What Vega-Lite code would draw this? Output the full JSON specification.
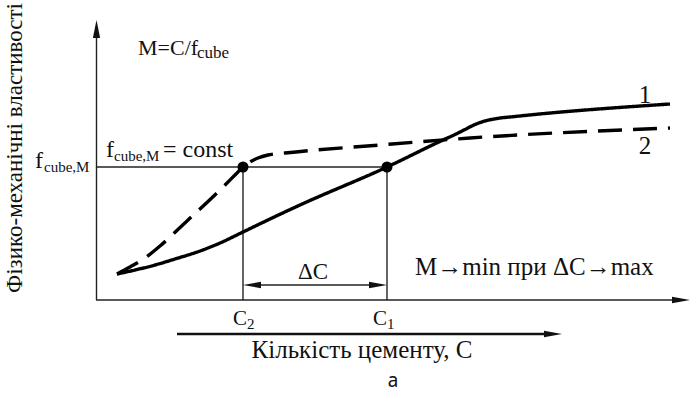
{
 "$schema": "https://vega.github.io/schema/vega-lite/v6.json",
 "width": 691, "height": 398,
 "autosize": {"type": "fit", "contains": "padding"},
 "padding": 0,
 "background": "white",
 "config": {"view": {"stroke": null}},
 "datasets": {
  "labels": [
   {"x": 138, "y": 343, "label": "M=C/f", "role": "eq"},
   {"x": 197, "y": 340, "label": "cube", "role": "subtop"},
   {"x": 35, "y": 230, "label": "f", "role": "f"},
   {"x": 44, "y": 226, "label": "cube,M", "role": "sub"},
   {"x": 106, "y": 241, "label": "f", "role": "f"},
   {"x": 114, "y": 237, "label": "cube,M", "role": "sub"},
   {"x": 163, "y": 241, "label": "= const", "role": "f"},
   {"x": 298, "y": 119, "label": "ΔC", "role": "dc"},
   {"x": 415, "y": 123, "label": "M→min при ΔC→max", "role": "big"},
   {"x": 233, "y": 73, "label": "C", "role": "c"},
   {"x": 247, "y": 69, "label": "2", "role": "sub"},
   {"x": 373, "y": 73, "label": "C", "role": "c"},
   {"x": 387, "y": 69, "label": "1", "role": "sub"}
  ]
 },
 "encoding": {
  "x": {"field": "x", "type": "quantitative", "scale": {"domain": [0, 691], "nice": false, "zero": false}, "axis": null},
  "y": {"field": "y", "type": "quantitative", "scale": {"domain": [0, 398], "nice": false, "zero": false}, "axis": null}
 },
 "layer": [
  {
   "data": {"values": [
    {"x": 96.5, "y": 98, "x2": 96.5, "y2": 372, "kind": "axis"},
    {"x": 96, "y": 98, "x2": 676, "y2": 98, "kind": "axis"},
    {"x": 96, "y": 231, "x2": 387, "y2": 231, "kind": "guide"},
    {"x": 243, "y": 98, "x2": 243, "y2": 231, "kind": "guide"},
    {"x": 387, "y": 98, "x2": 387, "y2": 231, "kind": "guide"},
    {"x": 255, "y": 113, "x2": 375, "y2": 113, "kind": "guide"}
   ]},
   "mark": {"type": "rule", "color": "#222", "strokeWidth": 1.4},
   "encoding": {"x2": {"field": "x2"}, "y2": {"field": "y2"}}
  },
  {
   "data": {"values": [{"x": 177, "y": 64, "x2": 550, "y2": 64}]},
   "mark": {"type": "rule", "color": "#111", "strokeWidth": 2.4},
   "encoding": {"x2": {"field": "x2"}, "y2": {"field": "y2"}}
  },
  {
   "data": {"values": [
    {"x": 96.5, "y": 378, "dir": "up"},
    {"x": 690, "y": 98, "dir": "right"},
    {"x": 562, "y": 64, "dir": "right"},
    {"x": 243, "y": 113, "dir": "left"},
    {"x": 387, "y": 113, "dir": "right"}
   ]},
   "mark": {"type": "point", "filled": true, "color": "#111", "opacity": 1, "size": 324, "strokeWidth": 0},
   "encoding": {
    "shape": {"field": "dir", "type": "nominal", "scale": {"domain": ["up", "right", "left"], "range": ["M0,0L0.4,2L-0.4,2Z", "M0,0L-2,0.36L-2,-0.36Z", "M0,0L2,0.36L2,-0.36Z"]}, "legend": null}
   }
  },
  {
   "data": {"values": [
    {"series": "1", "i": 1, "x": 117, "y": 124},
    {"series": "1", "i": 2, "x": 135, "y": 128},
    {"series": "1", "i": 3, "x": 155, "y": 133},
    {"series": "1", "i": 4, "x": 175, "y": 139},
    {"series": "1", "i": 5, "x": 200, "y": 147},
    {"series": "1", "i": 6, "x": 220, "y": 155},
    {"series": "1", "i": 7, "x": 243, "y": 166},
    {"series": "1", "i": 8, "x": 270, "y": 179},
    {"series": "1", "i": 9, "x": 300, "y": 193},
    {"series": "1", "i": 10, "x": 387, "y": 231},
    {"series": "1", "i": 11, "x": 443, "y": 258},
    {"series": "1", "i": 12, "x": 455, "y": 263.5},
    {"series": "1", "i": 13, "x": 465, "y": 268.5},
    {"series": "1", "i": 14, "x": 475, "y": 273.5},
    {"series": "1", "i": 15, "x": 485, "y": 277},
    {"series": "1", "i": 16, "x": 497, "y": 279.5},
    {"series": "1", "i": 17, "x": 515, "y": 281.5},
    {"series": "1", "i": 18, "x": 670, "y": 294},
    {"series": "2", "i": 1, "x": 117, "y": 124},
    {"series": "2", "i": 2, "x": 130, "y": 131},
    {"series": "2", "i": 3, "x": 145, "y": 140},
    {"series": "2", "i": 4, "x": 160, "y": 152},
    {"series": "2", "i": 5, "x": 187, "y": 177},
    {"series": "2", "i": 6, "x": 220, "y": 208},
    {"series": "2", "i": 7, "x": 236, "y": 224},
    {"series": "2", "i": 8, "x": 243, "y": 231},
    {"series": "2", "i": 9, "x": 250, "y": 236},
    {"series": "2", "i": 10, "x": 258, "y": 240},
    {"series": "2", "i": 11, "x": 268, "y": 243},
    {"series": "2", "i": 12, "x": 285, "y": 245},
    {"series": "2", "i": 13, "x": 380, "y": 253},
    {"series": "2", "i": 14, "x": 470, "y": 260},
    {"series": "2", "i": 15, "x": 670, "y": 270}
   ]},
   "mark": {"type": "line", "color": "#000", "strokeWidth": 3.4, "interpolate": "monotone", "strokeCap": "butt", "strokeJoin": "round"},
   "encoding": {
    "detail": {"field": "series", "type": "nominal"},
    "order": {"field": "i", "type": "quantitative"},
    "strokeDash": {"field": "series", "type": "nominal", "scale": {"domain": ["1", "2"], "range": [[1, 0], [24, 11]]}, "legend": null}
   }
  },
  {
   "data": {"values": [{"x": 243, "y": 231}, {"x": 387, "y": 231}]},
   "mark": {"type": "point", "shape": "circle", "filled": true, "color": "#000", "opacity": 1, "size": 121}
  },
  {
   "data": {"name": "labels"}, "transform": [{"filter": "datum.role === 'eq'"}],
   "mark": {"type": "text", "align": "left", "baseline": "alphabetic", "font": "Liberation Serif", "fontSize": 22, "color": "#111"},
   "encoding": {"text": {"field": "label"}}
  },
  {
   "data": {"name": "labels"}, "transform": [{"filter": "datum.role === 'subtop'"}],
   "mark": {"type": "text", "align": "left", "baseline": "alphabetic", "font": "Liberation Serif", "fontSize": 17, "color": "#111"},
   "encoding": {"text": {"field": "label"}}
  },
  {
   "data": {"name": "labels"}, "transform": [{"filter": "datum.role === 'f'"}],
   "mark": {"type": "text", "align": "left", "baseline": "alphabetic", "font": "Liberation Serif", "fontSize": 24, "color": "#111"},
   "encoding": {"text": {"field": "label"}}
  },
  {
   "data": {"name": "labels"}, "transform": [{"filter": "datum.role === 'sub'"}],
   "mark": {"type": "text", "align": "left", "baseline": "alphabetic", "font": "Liberation Serif", "fontSize": 15, "color": "#111"},
   "encoding": {"text": {"field": "label"}}
  },
  {
   "data": {"name": "labels"}, "transform": [{"filter": "datum.role === 'dc'"}],
   "mark": {"type": "text", "align": "left", "baseline": "alphabetic", "font": "Liberation Serif", "fontSize": 23, "color": "#111"},
   "encoding": {"text": {"field": "label"}}
  },
  {
   "data": {"name": "labels"}, "transform": [{"filter": "datum.role === 'big'"}],
   "mark": {"type": "text", "align": "left", "baseline": "alphabetic", "font": "Liberation Serif", "fontSize": 25, "color": "#111"},
   "encoding": {"text": {"field": "label"}}
  },
  {
   "data": {"name": "labels"}, "transform": [{"filter": "datum.role === 'c'"}],
   "mark": {"type": "text", "align": "left", "baseline": "alphabetic", "font": "Liberation Serif", "fontSize": 21, "color": "#111"},
   "encoding": {"text": {"field": "label"}}
  },
  {
   "data": {"values": [
    {"x": 645, "y": 295, "label": "1"},
    {"x": 645, "y": 244, "label": "2"},
    {"x": 362, "y": 40, "label": "Кількість цементу, С"}
   ]},
   "mark": {"type": "text", "align": "center", "baseline": "alphabetic", "fontSize": 25, "font": "Liberation Serif", "color": "#111"},
   "encoding": {"text": {"field": "label"}}
  },
  {
   "data": {"values": [{"x": 15, "y": 250, "label": "Фізико-механічні властивості"}]},
   "mark": {"type": "text", "align": "center", "baseline": "middle", "angle": 270, "fontSize": 23, "font": "Liberation Serif", "color": "#111"},
   "encoding": {"text": {"field": "label"}}
  },
  {
   "data": {"values": [{"x": 393, "y": 11, "label": "а"}]},
   "mark": {"type": "text", "align": "center", "baseline": "alphabetic", "fontSize": 19, "font": "Noto Sans", "color": "#111"},
   "encoding": {"text": {"field": "label"}}
  }
 ]
}
